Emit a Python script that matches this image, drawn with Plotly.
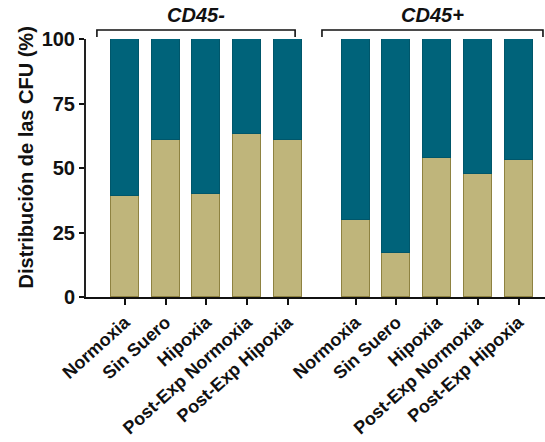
import plotly.graph_objects as go

# Conditions tested in each cell population
categories = ["Normoxia", "Sin Suero", "Hipoxia", "Post-Exp Normoxia", "Post-Exp Hipoxia"]
groups = ["CD45-", "CD45+"]

# Percentage of CFU in the lower (tan) segment; the teal segment fills up to 100 %
cd45_neg_lower = [39, 61, 40, 63, 61]
cd45_pos_lower = [30, 17, 54, 47.5, 53]

y_ticks = [0, 25, 50, 75, 100]

FONT = "Liberation Sans, Arial, sans-serif"
TAN = "#BFB57B"
TAN_EDGE = "#8E8241"
TEAL = "#00637A"
TEAL_EDGE = "#00566A"

group_gap = 5.67
x_neg = [i for i in range(len(categories))]
x_pos = [group_gap + i for i in range(len(categories))]
x_all = x_neg + x_pos
lower = cd45_neg_lower + cd45_pos_lower
upper = [100 - v for v in lower]

fig = go.Figure()
fig.add_trace(go.Bar(
    x=x_all, y=lower, width=0.69,
    marker=dict(color=TAN, line=dict(color=TAN_EDGE, width=1.5)),
    showlegend=False,
))
fig.add_trace(go.Bar(
    x=x_all, y=upper, width=0.69,
    marker=dict(color=TEAL, line=dict(color=TEAL_EDGE, width=1)),
    showlegend=False,
))

# Group brackets and headings above the bars
brackets = [(-0.69, 4.18), (4.84, 10.27)]
for (x0, x1), name in zip(brackets, groups):
    fig.add_shape(type="path", xref="x", yref="paper",
                  path=f"M {x0} 1.008 L {x0} 1.035 L {x1} 1.035 L {x1} 1.008",
                  line=dict(color="#111111", width=1.6))
    fig.add_annotation(x=(x0 + x1) / 2, y=1.093, xref="x", yref="paper",
                       text=f"<b><i>{name}</i></b>", showarrow=False,
                       xanchor="center", yanchor="middle",
                       font=dict(family=FONT, size=20, color="#111111"))

# Y-axis title
fig.add_annotation(x=-0.1307, y=0.541, xref="paper", yref="paper",
                   text="<b>Distribución de las CFU (%)</b>", textangle=-90,
                   showarrow=False, xanchor="center", yanchor="middle",
                   font=dict(family=FONT, size=20, color="#111111"))

fig.update_layout(
    barmode="stack",
    width=545, height=442,
    margin=dict(l=86, r=0, t=39, b=145),
    paper_bgcolor="white", plot_bgcolor="white",
    font=dict(family=FONT, color="#111111"),
    bargap=0,
)
fig.update_xaxes(
    range=[-0.958, 10.32],
    tickmode="array", tickvals=x_all,
    ticktext=[f"<b>{c}</b>" for c in categories + categories],
    tickangle=-42,
    tickfont=dict(family=FONT, size=18, color="#111111"),
    ticks="outside", ticklen=6, tickwidth=1.5, tickcolor="#111111",
    showline=True, linecolor="#111111", linewidth=1.6,
    showgrid=False, zeroline=False,
)
fig.update_yaxes(
    range=[0, 100],
    tickmode="array", tickvals=y_ticks,
    ticktext=[f"<b>{v}</b>" for v in y_ticks],
    tickfont=dict(family=FONT, size=20, color="#111111"),
    ticks="outside", ticklen=5, tickwidth=1.5, tickcolor="#111111",
    showline=True, linecolor="#222222", linewidth=2,
    showgrid=False, zeroline=False,
)

fig.write_html("out.html")
